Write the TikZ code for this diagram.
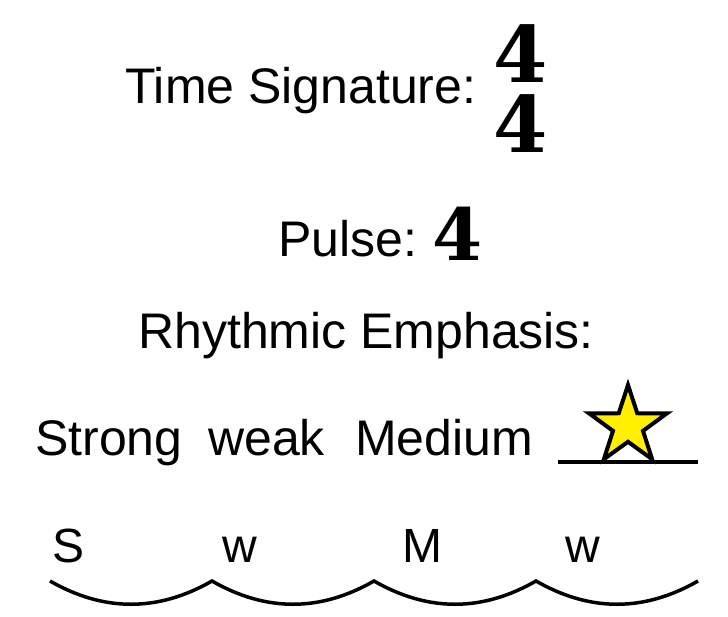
\documentclass[tikz,border=0pt]{standalone}
\usepackage{fontspec}
\setmainfont{Liberation Sans}
\newfontfamily\sigfont{DejaVu Serif}
\usepackage{tikz}
\usepackage{xcolor}
\usetikzlibrary{shapes.geometric}
\definecolor{starfill}{RGB}{255,240,0}
\tikzstyle{lbl}=[inner sep=0pt, anchor=base west, font=\fontsize{50}{60}\selectfont]
\tikzstyle{num}=[inner sep=0pt, anchor=base, text height=56pt, text depth=0pt,
  font=\sigfont\bfseries\fontsize{78}{80}\selectfont]
\tikzstyle{beat}=[line width=3.5pt]

\begin{document}
\begin{tikzpicture}[x=1pt, y=-1pt]
    \useasboundingbox (0,0) rectangle (728,616);
    % time signature
    \node[lbl] (ts) at (125,103) {Time Signature:};
    \node[num] (top) at (521,82) {4};
    \node[num] (bot) at (521,152) {4};
    % pulse
    \node[lbl] (pl) at (278,256) {Pulse:};
    \node[num, text height=52pt, font=\sigfont\bfseries\fontsize{72}{76}\selectfont] (pn) at (458,260) {4};
    \node[lbl] (re) at (138,348) {Rhythmic Emphasis:};
    % emphasis words
    \node[lbl] (strong) at (35,455) {Strong};
    \node[lbl] (weak) at (208,455) {weak};
    \node[lbl] (medium) at (355,455) {Medium};
    \coordinate (l1) at (558,462);
    \coordinate (l2) at (698,462);
    \draw[beat] (l1) -- (l2);
    \node[star, star points=5, star point ratio=2.6, minimum size=82pt,
      inner sep=0pt, draw=black, line width=4pt, fill=starfill] (st) at (628,426) {};
    % beat letters
    \node[lbl, font=\fontsize{48}{58}\selectfont] (b1) at (52,562) {S};
    \node[lbl, font=\fontsize{48}{58}\selectfont] (b2) at (222,562) {w};
    \node[lbl, font=\fontsize{48}{58}\selectfont] (b3) at (402,562) {M};
    \node[lbl, font=\fontsize{48}{58}\selectfont] (b4) at (565,562) {w};
    % arcs
    \coordinate (a0) at (50,581);
    \coordinate (a1) at (212,581);
    \coordinate (a2) at (374,581);
    \coordinate (a3) at (536,581);
    \coordinate (a4) at (698,581);
    \draw[beat] (a0) .. controls ++(54,31) and ++(-54,31) .. (a1)
      .. controls ++(54,31) and ++(-54,31) .. (a2)
      .. controls ++(54,31) and ++(-54,31) .. (a3)
      .. controls ++(54,31) and ++(-54,31) .. (a4);
  \end{tikzpicture}
\end{document}
